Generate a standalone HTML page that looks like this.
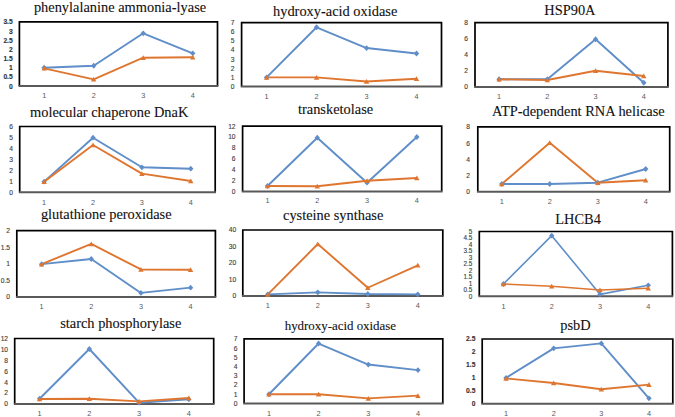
<!DOCTYPE html>
<html><head><meta charset="utf-8"><style>
html,body{margin:0;padding:0;background:#fff;}
svg{display:block;}
.t{font-family:"Liberation Serif",serif;}
.s{font-family:"Liberation Sans",sans-serif;}
</style></head><body>
<svg width="675" height="417" viewBox="0 0 675 417">
<rect width="675" height="417" fill="#fff"/>
<text x="33.90" y="11.60" class="t" font-size="14.4" fill="#111" stroke="#111" stroke-width="0.1">phenylalanine ammonia-lyase</text>
<text x="12.70" y="88.50" text-anchor="end" class="s" font-size="6.7" font-weight="bold" fill="#333" stroke="#333" stroke-width="0.12">0</text>
<text x="12.70" y="79.33" text-anchor="end" class="s" font-size="6.7" font-weight="bold" fill="#333" stroke="#333" stroke-width="0.12">0.5</text>
<text x="12.70" y="70.17" text-anchor="end" class="s" font-size="6.7" font-weight="bold" fill="#333" stroke="#333" stroke-width="0.12">1</text>
<text x="12.70" y="61.01" text-anchor="end" class="s" font-size="6.7" font-weight="bold" fill="#333" stroke="#333" stroke-width="0.12">1.5</text>
<text x="12.70" y="51.84" text-anchor="end" class="s" font-size="6.7" font-weight="bold" fill="#333" stroke="#333" stroke-width="0.12">2</text>
<text x="12.70" y="42.68" text-anchor="end" class="s" font-size="6.7" font-weight="bold" fill="#333" stroke="#333" stroke-width="0.12">2.5</text>
<text x="12.70" y="33.51" text-anchor="end" class="s" font-size="6.7" font-weight="bold" fill="#333" stroke="#333" stroke-width="0.12">3</text>
<text x="12.70" y="24.35" text-anchor="end" class="s" font-size="6.7" font-weight="bold" fill="#333" stroke="#333" stroke-width="0.12">3.5</text>
<text x="44.16" y="98.10" text-anchor="middle" class="s" font-size="7.3" fill="#595959">1</text>
<text x="93.69" y="98.10" text-anchor="middle" class="s" font-size="7.3" fill="#595959">2</text>
<text x="143.21" y="98.10" text-anchor="middle" class="s" font-size="7.3" fill="#595959">3</text>
<text x="192.74" y="98.10" text-anchor="middle" class="s" font-size="7.3" fill="#595959">4</text>
<path d="M19.40,86.10 L19.40,21.95 L217.50,21.95 L217.50,86.10" fill="none" stroke="#000" stroke-width="1.7"/>
<line x1="18.55" y1="86.10" x2="218.35" y2="86.10" stroke="#595959" stroke-width="2"/>
<polyline points="44.16,67.77 93.69,65.76 143.21,33.31 192.74,53.29" fill="none" stroke="#5F8EC8" stroke-width="1.9" stroke-linejoin="round"/>
<polyline points="44.16,68.32 93.69,79.32 143.21,57.69 192.74,57.32" fill="none" stroke="#DF7630" stroke-width="1.9" stroke-linejoin="round"/>
<path d="M44.16,64.87 L46.86,67.77 L44.16,70.67 L41.46,67.77Z" fill="#5F8EC8"/>
<path d="M93.69,62.86 L96.39,65.76 L93.69,68.66 L90.99,65.76Z" fill="#5F8EC8"/>
<path d="M143.21,30.41 L145.91,33.31 L143.21,36.21 L140.51,33.31Z" fill="#5F8EC8"/>
<path d="M192.74,50.39 L195.44,53.29 L192.74,56.19 L190.04,53.29Z" fill="#5F8EC8"/>
<path d="M44.16,65.82 L46.86,70.62 L41.46,70.62Z" fill="#DF7630"/>
<path d="M93.69,76.82 L96.39,81.62 L90.99,81.62Z" fill="#DF7630"/>
<path d="M143.21,55.19 L145.91,59.99 L140.51,59.99Z" fill="#DF7630"/>
<path d="M192.74,54.82 L195.44,59.62 L190.04,59.62Z" fill="#DF7630"/>
<text x="273.00" y="15.70" class="t" font-size="14.4" fill="#111" stroke="#111" stroke-width="0.1">hydroxy-acid oxidase</text>
<text x="234.60" y="88.90" text-anchor="end" class="s" font-size="6.7" font-weight="normal" fill="#3c3c3c" stroke="#3c3c3c" stroke-width="0.12">0</text>
<text x="234.60" y="79.78" text-anchor="end" class="s" font-size="6.7" font-weight="normal" fill="#3c3c3c" stroke="#3c3c3c" stroke-width="0.12">1</text>
<text x="234.60" y="70.67" text-anchor="end" class="s" font-size="6.7" font-weight="normal" fill="#3c3c3c" stroke="#3c3c3c" stroke-width="0.12">2</text>
<text x="234.60" y="61.56" text-anchor="end" class="s" font-size="6.7" font-weight="normal" fill="#3c3c3c" stroke="#3c3c3c" stroke-width="0.12">3</text>
<text x="234.60" y="52.44" text-anchor="end" class="s" font-size="6.7" font-weight="normal" fill="#3c3c3c" stroke="#3c3c3c" stroke-width="0.12">4</text>
<text x="234.60" y="43.33" text-anchor="end" class="s" font-size="6.7" font-weight="normal" fill="#3c3c3c" stroke="#3c3c3c" stroke-width="0.12">5</text>
<text x="234.60" y="34.21" text-anchor="end" class="s" font-size="6.7" font-weight="normal" fill="#3c3c3c" stroke="#3c3c3c" stroke-width="0.12">6</text>
<text x="234.60" y="25.10" text-anchor="end" class="s" font-size="6.7" font-weight="normal" fill="#3c3c3c" stroke="#3c3c3c" stroke-width="0.12">7</text>
<text x="266.59" y="98.50" text-anchor="middle" class="s" font-size="7.3" fill="#595959">1</text>
<text x="316.56" y="98.50" text-anchor="middle" class="s" font-size="7.3" fill="#595959">2</text>
<text x="366.54" y="98.50" text-anchor="middle" class="s" font-size="7.3" fill="#595959">3</text>
<text x="416.51" y="98.50" text-anchor="middle" class="s" font-size="7.3" fill="#595959">4</text>
<path d="M241.60,86.50 L241.60,22.70 L441.50,22.70 L441.50,86.50" fill="none" stroke="#000" stroke-width="1.7"/>
<line x1="240.75" y1="86.50" x2="442.35" y2="86.50" stroke="#595959" stroke-width="2"/>
<polyline points="266.59,77.39 316.56,27.26 366.54,48.04 416.51,53.51" fill="none" stroke="#5F8EC8" stroke-width="1.9" stroke-linejoin="round"/>
<polyline points="266.59,77.39 316.56,77.39 366.54,81.49 416.51,78.75" fill="none" stroke="#DF7630" stroke-width="1.9" stroke-linejoin="round"/>
<path d="M266.59,74.49 L269.29,77.39 L266.59,80.29 L263.89,77.39Z" fill="#5F8EC8"/>
<path d="M316.56,24.36 L319.26,27.26 L316.56,30.16 L313.86,27.26Z" fill="#5F8EC8"/>
<path d="M366.54,45.14 L369.24,48.04 L366.54,50.94 L363.84,48.04Z" fill="#5F8EC8"/>
<path d="M416.51,50.61 L419.21,53.51 L416.51,56.41 L413.81,53.51Z" fill="#5F8EC8"/>
<path d="M266.59,74.89 L269.29,79.69 L263.89,79.69Z" fill="#DF7630"/>
<path d="M316.56,74.89 L319.26,79.69 L313.86,79.69Z" fill="#DF7630"/>
<path d="M366.54,78.99 L369.24,83.79 L363.84,83.79Z" fill="#DF7630"/>
<path d="M416.51,76.25 L419.21,81.05 L413.81,81.05Z" fill="#DF7630"/>
<text x="544.30" y="14.50" class="t" font-size="14.4" fill="#111" stroke="#111" stroke-width="0.1">HSP90A</text>
<text x="468.00" y="89.40" text-anchor="end" class="s" font-size="6.7" font-weight="normal" fill="#3c3c3c" stroke="#3c3c3c" stroke-width="0.12">0</text>
<text x="468.00" y="73.30" text-anchor="end" class="s" font-size="6.7" font-weight="normal" fill="#3c3c3c" stroke="#3c3c3c" stroke-width="0.12">2</text>
<text x="468.00" y="57.20" text-anchor="end" class="s" font-size="6.7" font-weight="normal" fill="#3c3c3c" stroke="#3c3c3c" stroke-width="0.12">4</text>
<text x="468.00" y="41.10" text-anchor="end" class="s" font-size="6.7" font-weight="normal" fill="#3c3c3c" stroke="#3c3c3c" stroke-width="0.12">6</text>
<text x="468.00" y="25.00" text-anchor="end" class="s" font-size="6.7" font-weight="normal" fill="#3c3c3c" stroke="#3c3c3c" stroke-width="0.12">8</text>
<text x="499.11" y="99.00" text-anchor="middle" class="s" font-size="7.3" fill="#595959">1</text>
<text x="547.34" y="99.00" text-anchor="middle" class="s" font-size="7.3" fill="#595959">2</text>
<text x="595.56" y="99.00" text-anchor="middle" class="s" font-size="7.3" fill="#595959">3</text>
<text x="643.79" y="99.00" text-anchor="middle" class="s" font-size="7.3" fill="#595959">4</text>
<path d="M475.00,87.00 L475.00,22.60 L667.90,22.60 L667.90,87.00" fill="none" stroke="#000" stroke-width="1.7"/>
<line x1="474.15" y1="87.00" x2="668.75" y2="87.00" stroke="#595959" stroke-width="2"/>
<polyline points="499.11,79.27 547.34,79.27 595.56,39.26 643.79,82.73" fill="none" stroke="#5F8EC8" stroke-width="1.9" stroke-linejoin="round"/>
<polyline points="499.11,79.27 547.34,80.00 595.56,70.74 643.79,75.97" fill="none" stroke="#DF7630" stroke-width="1.9" stroke-linejoin="round"/>
<path d="M499.11,76.37 L501.81,79.27 L499.11,82.17 L496.41,79.27Z" fill="#5F8EC8"/>
<path d="M547.34,76.37 L550.04,79.27 L547.34,82.17 L544.64,79.27Z" fill="#5F8EC8"/>
<path d="M595.56,36.36 L598.26,39.26 L595.56,42.16 L592.86,39.26Z" fill="#5F8EC8"/>
<path d="M643.79,79.83 L646.49,82.73 L643.79,85.63 L641.09,82.73Z" fill="#5F8EC8"/>
<path d="M499.11,76.77 L501.81,81.57 L496.41,81.57Z" fill="#DF7630"/>
<path d="M547.34,77.50 L550.04,82.30 L544.64,82.30Z" fill="#DF7630"/>
<path d="M595.56,68.24 L598.26,73.04 L592.86,73.04Z" fill="#DF7630"/>
<path d="M643.79,73.47 L646.49,78.27 L641.09,78.27Z" fill="#DF7630"/>
<text x="30.10" y="117.00" class="t" font-size="14.4" fill="#111" stroke="#111" stroke-width="0.1">molecular chaperone DnaK</text>
<text x="13.10" y="194.70" text-anchor="end" class="s" font-size="6.7" font-weight="normal" fill="#3c3c3c" stroke="#3c3c3c" stroke-width="0.12">0</text>
<text x="13.10" y="183.73" text-anchor="end" class="s" font-size="6.7" font-weight="normal" fill="#3c3c3c" stroke="#3c3c3c" stroke-width="0.12">1</text>
<text x="13.10" y="172.77" text-anchor="end" class="s" font-size="6.7" font-weight="normal" fill="#3c3c3c" stroke="#3c3c3c" stroke-width="0.12">2</text>
<text x="13.10" y="161.80" text-anchor="end" class="s" font-size="6.7" font-weight="normal" fill="#3c3c3c" stroke="#3c3c3c" stroke-width="0.12">3</text>
<text x="13.10" y="150.83" text-anchor="end" class="s" font-size="6.7" font-weight="normal" fill="#3c3c3c" stroke="#3c3c3c" stroke-width="0.12">4</text>
<text x="13.10" y="139.87" text-anchor="end" class="s" font-size="6.7" font-weight="normal" fill="#3c3c3c" stroke="#3c3c3c" stroke-width="0.12">5</text>
<text x="13.10" y="128.90" text-anchor="end" class="s" font-size="6.7" font-weight="normal" fill="#3c3c3c" stroke="#3c3c3c" stroke-width="0.12">6</text>
<text x="44.14" y="205.00" text-anchor="middle" class="s" font-size="7.3" fill="#595959">1</text>
<text x="93.01" y="205.00" text-anchor="middle" class="s" font-size="7.3" fill="#595959">2</text>
<text x="141.89" y="205.00" text-anchor="middle" class="s" font-size="7.3" fill="#595959">3</text>
<text x="190.76" y="205.00" text-anchor="middle" class="s" font-size="7.3" fill="#595959">4</text>
<path d="M19.70,192.30 L19.70,126.50 L215.20,126.50 L215.20,192.30" fill="none" stroke="#000" stroke-width="1.7"/>
<line x1="18.85" y1="192.30" x2="216.05" y2="192.30" stroke="#595959" stroke-width="2"/>
<polyline points="44.14,181.66 93.01,137.69 141.89,167.30 190.76,168.72" fill="none" stroke="#5F8EC8" stroke-width="1.9" stroke-linejoin="round"/>
<polyline points="44.14,181.66 93.01,145.03 141.89,173.66 190.76,181.00" fill="none" stroke="#DF7630" stroke-width="1.9" stroke-linejoin="round"/>
<path d="M44.14,178.76 L46.84,181.66 L44.14,184.56 L41.44,181.66Z" fill="#5F8EC8"/>
<path d="M93.01,134.79 L95.71,137.69 L93.01,140.59 L90.31,137.69Z" fill="#5F8EC8"/>
<path d="M141.89,164.40 L144.59,167.30 L141.89,170.20 L139.19,167.30Z" fill="#5F8EC8"/>
<path d="M190.76,165.82 L193.46,168.72 L190.76,171.62 L188.06,168.72Z" fill="#5F8EC8"/>
<path d="M44.14,179.16 L46.84,183.96 L41.44,183.96Z" fill="#DF7630"/>
<path d="M93.01,142.53 L95.71,147.33 L90.31,147.33Z" fill="#DF7630"/>
<path d="M141.89,171.16 L144.59,175.96 L139.19,175.96Z" fill="#DF7630"/>
<path d="M190.76,178.50 L193.46,183.30 L188.06,183.30Z" fill="#DF7630"/>
<text x="298.00" y="113.60" class="t" font-size="14.4" fill="#111" stroke="#111" stroke-width="0.1">transketolase</text>
<text x="235.60" y="193.80" text-anchor="end" class="s" font-size="6.7" font-weight="normal" fill="#3c3c3c" stroke="#3c3c3c" stroke-width="0.12">0</text>
<text x="235.60" y="182.93" text-anchor="end" class="s" font-size="6.7" font-weight="normal" fill="#3c3c3c" stroke="#3c3c3c" stroke-width="0.12">2</text>
<text x="235.60" y="172.07" text-anchor="end" class="s" font-size="6.7" font-weight="normal" fill="#3c3c3c" stroke="#3c3c3c" stroke-width="0.12">4</text>
<text x="235.60" y="161.20" text-anchor="end" class="s" font-size="6.7" font-weight="normal" fill="#3c3c3c" stroke="#3c3c3c" stroke-width="0.12">6</text>
<text x="235.60" y="150.33" text-anchor="end" class="s" font-size="6.7" font-weight="normal" fill="#3c3c3c" stroke="#3c3c3c" stroke-width="0.12">8</text>
<text x="235.60" y="139.47" text-anchor="end" class="s" font-size="6.7" font-weight="normal" fill="#3c3c3c" stroke="#3c3c3c" stroke-width="0.12">10</text>
<text x="235.60" y="128.60" text-anchor="end" class="s" font-size="6.7" font-weight="normal" fill="#3c3c3c" stroke="#3c3c3c" stroke-width="0.12">12</text>
<text x="267.49" y="203.20" text-anchor="middle" class="s" font-size="7.3" fill="#595959">1</text>
<text x="317.26" y="203.20" text-anchor="middle" class="s" font-size="7.3" fill="#595959">2</text>
<text x="367.04" y="203.20" text-anchor="middle" class="s" font-size="7.3" fill="#595959">3</text>
<text x="416.81" y="203.20" text-anchor="middle" class="s" font-size="7.3" fill="#595959">4</text>
<path d="M242.60,191.40 L242.60,126.20 L441.70,126.20 L441.70,191.40" fill="none" stroke="#000" stroke-width="1.7"/>
<line x1="241.75" y1="191.40" x2="442.55" y2="191.40" stroke="#595959" stroke-width="2"/>
<polyline points="267.49,186.02 317.26,137.72 367.04,182.71 416.81,137.01" fill="none" stroke="#5F8EC8" stroke-width="1.9" stroke-linejoin="round"/>
<polyline points="267.49,186.02 317.26,186.29 367.04,180.70 416.81,177.98" fill="none" stroke="#DF7630" stroke-width="1.9" stroke-linejoin="round"/>
<path d="M267.49,183.12 L270.19,186.02 L267.49,188.92 L264.79,186.02Z" fill="#5F8EC8"/>
<path d="M317.26,134.82 L319.96,137.72 L317.26,140.62 L314.56,137.72Z" fill="#5F8EC8"/>
<path d="M367.04,179.81 L369.74,182.71 L367.04,185.61 L364.34,182.71Z" fill="#5F8EC8"/>
<path d="M416.81,134.11 L419.51,137.01 L416.81,139.91 L414.11,137.01Z" fill="#5F8EC8"/>
<path d="M267.49,183.52 L270.19,188.32 L264.79,188.32Z" fill="#DF7630"/>
<path d="M317.26,183.79 L319.96,188.59 L314.56,188.59Z" fill="#DF7630"/>
<path d="M367.04,178.20 L369.74,183.00 L364.34,183.00Z" fill="#DF7630"/>
<path d="M416.81,175.48 L419.51,180.28 L414.11,180.28Z" fill="#DF7630"/>
<text x="492.10" y="115.60" class="t" font-size="14.4" fill="#111" stroke="#111" stroke-width="0.1">ATP-dependent RNA helicase</text>
<text x="470.00" y="194.20" text-anchor="end" class="s" font-size="6.7" font-weight="normal" fill="#3c3c3c" stroke="#3c3c3c" stroke-width="0.12">0</text>
<text x="470.00" y="177.97" text-anchor="end" class="s" font-size="6.7" font-weight="normal" fill="#3c3c3c" stroke="#3c3c3c" stroke-width="0.12">2</text>
<text x="470.00" y="161.75" text-anchor="end" class="s" font-size="6.7" font-weight="normal" fill="#3c3c3c" stroke="#3c3c3c" stroke-width="0.12">4</text>
<text x="470.00" y="145.52" text-anchor="end" class="s" font-size="6.7" font-weight="normal" fill="#3c3c3c" stroke="#3c3c3c" stroke-width="0.12">6</text>
<text x="470.00" y="129.30" text-anchor="end" class="s" font-size="6.7" font-weight="normal" fill="#3c3c3c" stroke="#3c3c3c" stroke-width="0.12">8</text>
<text x="501.79" y="203.90" text-anchor="middle" class="s" font-size="7.3" fill="#595959">1</text>
<text x="549.76" y="203.90" text-anchor="middle" class="s" font-size="7.3" fill="#595959">2</text>
<text x="597.74" y="203.90" text-anchor="middle" class="s" font-size="7.3" fill="#595959">3</text>
<text x="645.71" y="203.90" text-anchor="middle" class="s" font-size="7.3" fill="#595959">4</text>
<path d="M477.80,191.80 L477.80,126.90 L669.70,126.90 L669.70,191.80" fill="none" stroke="#000" stroke-width="1.7"/>
<line x1="476.95" y1="191.80" x2="670.55" y2="191.80" stroke="#595959" stroke-width="2"/>
<polyline points="501.79,184.01 549.76,184.01 597.74,182.71 645.71,169.00" fill="none" stroke="#5F8EC8" stroke-width="1.9" stroke-linejoin="round"/>
<polyline points="501.79,184.01 549.76,142.72 597.74,182.71 645.71,180.28" fill="none" stroke="#DF7630" stroke-width="1.9" stroke-linejoin="round"/>
<path d="M501.79,181.11 L504.49,184.01 L501.79,186.91 L499.09,184.01Z" fill="#5F8EC8"/>
<path d="M549.76,181.11 L552.46,184.01 L549.76,186.91 L547.06,184.01Z" fill="#5F8EC8"/>
<path d="M597.74,179.81 L600.44,182.71 L597.74,185.61 L595.04,182.71Z" fill="#5F8EC8"/>
<path d="M645.71,166.10 L648.41,169.00 L645.71,171.90 L643.01,169.00Z" fill="#5F8EC8"/>
<path d="M501.79,181.51 L504.49,186.31 L499.09,186.31Z" fill="#DF7630"/>
<path d="M549.76,140.22 L552.46,145.02 L547.06,145.02Z" fill="#DF7630"/>
<path d="M597.74,180.21 L600.44,185.01 L595.04,185.01Z" fill="#DF7630"/>
<path d="M645.71,177.78 L648.41,182.58 L643.01,182.58Z" fill="#DF7630"/>
<text x="40.90" y="219.40" class="t" font-size="14.4" fill="#111" stroke="#111" stroke-width="0.1">glutathione peroxidase</text>
<text x="10.00" y="299.30" text-anchor="end" class="s" font-size="6.7" font-weight="normal" fill="#3c3c3c" stroke="#3c3c3c" stroke-width="0.12">0</text>
<text x="10.00" y="282.75" text-anchor="end" class="s" font-size="6.7" font-weight="normal" fill="#3c3c3c" stroke="#3c3c3c" stroke-width="0.12">0.5</text>
<text x="10.00" y="266.20" text-anchor="end" class="s" font-size="6.7" font-weight="normal" fill="#3c3c3c" stroke="#3c3c3c" stroke-width="0.12">1</text>
<text x="10.00" y="249.65" text-anchor="end" class="s" font-size="6.7" font-weight="normal" fill="#3c3c3c" stroke="#3c3c3c" stroke-width="0.12">1.5</text>
<text x="10.00" y="233.10" text-anchor="end" class="s" font-size="6.7" font-weight="normal" fill="#3c3c3c" stroke="#3c3c3c" stroke-width="0.12">2</text>
<text x="41.62" y="309.00" text-anchor="middle" class="s" font-size="7.3" fill="#595959">1</text>
<text x="91.27" y="309.00" text-anchor="middle" class="s" font-size="7.3" fill="#595959">2</text>
<text x="140.93" y="309.00" text-anchor="middle" class="s" font-size="7.3" fill="#595959">3</text>
<text x="190.58" y="309.00" text-anchor="middle" class="s" font-size="7.3" fill="#595959">4</text>
<path d="M16.80,296.90 L16.80,230.70 L215.40,230.70 L215.40,296.90" fill="none" stroke="#000" stroke-width="1.7"/>
<line x1="15.95" y1="296.90" x2="216.25" y2="296.90" stroke="#595959" stroke-width="2"/>
<polyline points="41.62,264.13 91.27,259.00 140.93,292.93 190.58,287.63" fill="none" stroke="#5F8EC8" stroke-width="1.9" stroke-linejoin="round"/>
<polyline points="41.62,264.13 91.27,243.94 140.93,269.43 190.58,269.76" fill="none" stroke="#DF7630" stroke-width="1.9" stroke-linejoin="round"/>
<path d="M41.62,261.23 L44.33,264.13 L41.62,267.03 L38.92,264.13Z" fill="#5F8EC8"/>
<path d="M91.27,256.10 L93.97,259.00 L91.27,261.90 L88.57,259.00Z" fill="#5F8EC8"/>
<path d="M140.93,290.03 L143.62,292.93 L140.93,295.83 L138.23,292.93Z" fill="#5F8EC8"/>
<path d="M190.58,284.73 L193.28,287.63 L190.58,290.53 L187.88,287.63Z" fill="#5F8EC8"/>
<path d="M41.62,261.63 L44.33,266.43 L38.92,266.43Z" fill="#DF7630"/>
<path d="M91.27,241.44 L93.97,246.24 L88.57,246.24Z" fill="#DF7630"/>
<path d="M140.93,266.93 L143.62,271.73 L138.23,271.73Z" fill="#DF7630"/>
<path d="M190.58,267.26 L193.28,272.06 L187.88,272.06Z" fill="#DF7630"/>
<text x="283.00" y="219.60" class="t" font-size="14.4" fill="#111" stroke="#111" stroke-width="0.1">cysteine synthase</text>
<text x="236.20" y="298.40" text-anchor="end" class="s" font-size="6.7" font-weight="normal" fill="#3c3c3c" stroke="#3c3c3c" stroke-width="0.12">0</text>
<text x="236.20" y="281.90" text-anchor="end" class="s" font-size="6.7" font-weight="normal" fill="#3c3c3c" stroke="#3c3c3c" stroke-width="0.12">10</text>
<text x="236.20" y="265.40" text-anchor="end" class="s" font-size="6.7" font-weight="normal" fill="#3c3c3c" stroke="#3c3c3c" stroke-width="0.12">20</text>
<text x="236.20" y="248.90" text-anchor="end" class="s" font-size="6.7" font-weight="normal" fill="#3c3c3c" stroke="#3c3c3c" stroke-width="0.12">30</text>
<text x="236.20" y="232.40" text-anchor="end" class="s" font-size="6.7" font-weight="normal" fill="#3c3c3c" stroke="#3c3c3c" stroke-width="0.12">40</text>
<text x="267.80" y="308.00" text-anchor="middle" class="s" font-size="7.3" fill="#595959">1</text>
<text x="317.80" y="308.00" text-anchor="middle" class="s" font-size="7.3" fill="#595959">2</text>
<text x="367.80" y="308.00" text-anchor="middle" class="s" font-size="7.3" fill="#595959">3</text>
<text x="417.80" y="308.00" text-anchor="middle" class="s" font-size="7.3" fill="#595959">4</text>
<path d="M242.80,296.00 L242.80,230.00 L442.80,230.00 L442.80,296.00" fill="none" stroke="#000" stroke-width="1.7"/>
<line x1="241.95" y1="296.00" x2="443.65" y2="296.00" stroke="#595959" stroke-width="2"/>
<polyline points="267.80,294.35 317.80,292.37 367.80,294.02 417.80,294.35" fill="none" stroke="#5F8EC8" stroke-width="1.9" stroke-linejoin="round"/>
<polyline points="267.80,294.35 317.80,244.03 367.80,287.75 417.80,265.31" fill="none" stroke="#DF7630" stroke-width="1.9" stroke-linejoin="round"/>
<path d="M267.80,291.45 L270.50,294.35 L267.80,297.25 L265.10,294.35Z" fill="#5F8EC8"/>
<path d="M317.80,289.47 L320.50,292.37 L317.80,295.27 L315.10,292.37Z" fill="#5F8EC8"/>
<path d="M367.80,291.12 L370.50,294.02 L367.80,296.92 L365.10,294.02Z" fill="#5F8EC8"/>
<path d="M417.80,291.45 L420.50,294.35 L417.80,297.25 L415.10,294.35Z" fill="#5F8EC8"/>
<path d="M267.80,291.85 L270.50,296.65 L265.10,296.65Z" fill="#DF7630"/>
<path d="M317.80,241.53 L320.50,246.33 L315.10,246.33Z" fill="#DF7630"/>
<path d="M367.80,285.25 L370.50,290.05 L365.10,290.05Z" fill="#DF7630"/>
<path d="M417.80,262.81 L420.50,267.61 L415.10,267.61Z" fill="#DF7630"/>
<text x="555.30" y="223.80" class="t" font-size="14.4" fill="#111" stroke="#111" stroke-width="0.1">LHCB4</text>
<text x="472.30" y="298.59" text-anchor="end" class="s" font-size="6.4" font-weight="normal" fill="#3c3c3c" stroke="#3c3c3c" stroke-width="0.12">0</text>
<text x="472.30" y="292.11" text-anchor="end" class="s" font-size="6.4" font-weight="normal" fill="#3c3c3c" stroke="#3c3c3c" stroke-width="0.12">0.5</text>
<text x="472.30" y="285.63" text-anchor="end" class="s" font-size="6.4" font-weight="normal" fill="#3c3c3c" stroke="#3c3c3c" stroke-width="0.12">1</text>
<text x="472.30" y="279.15" text-anchor="end" class="s" font-size="6.4" font-weight="normal" fill="#3c3c3c" stroke="#3c3c3c" stroke-width="0.12">1.5</text>
<text x="472.30" y="272.67" text-anchor="end" class="s" font-size="6.4" font-weight="normal" fill="#3c3c3c" stroke="#3c3c3c" stroke-width="0.12">2</text>
<text x="472.30" y="266.19" text-anchor="end" class="s" font-size="6.4" font-weight="normal" fill="#3c3c3c" stroke="#3c3c3c" stroke-width="0.12">2.5</text>
<text x="472.30" y="259.71" text-anchor="end" class="s" font-size="6.4" font-weight="normal" fill="#3c3c3c" stroke="#3c3c3c" stroke-width="0.12">3</text>
<text x="472.30" y="253.23" text-anchor="end" class="s" font-size="6.4" font-weight="normal" fill="#3c3c3c" stroke="#3c3c3c" stroke-width="0.12">3.5</text>
<text x="472.30" y="246.75" text-anchor="end" class="s" font-size="6.4" font-weight="normal" fill="#3c3c3c" stroke="#3c3c3c" stroke-width="0.12">4</text>
<text x="472.30" y="240.27" text-anchor="end" class="s" font-size="6.4" font-weight="normal" fill="#3c3c3c" stroke="#3c3c3c" stroke-width="0.12">4.5</text>
<text x="472.30" y="233.79" text-anchor="end" class="s" font-size="6.4" font-weight="normal" fill="#3c3c3c" stroke="#3c3c3c" stroke-width="0.12">5</text>
<text x="503.44" y="309.00" text-anchor="middle" class="s" font-size="7.3" fill="#595959">1</text>
<text x="551.71" y="309.00" text-anchor="middle" class="s" font-size="7.3" fill="#595959">2</text>
<text x="599.99" y="309.00" text-anchor="middle" class="s" font-size="7.3" fill="#595959">3</text>
<text x="648.26" y="309.00" text-anchor="middle" class="s" font-size="7.3" fill="#595959">4</text>
<path d="M479.30,296.30 L479.30,231.50 L672.40,231.50 L672.40,296.30" fill="none" stroke="#000" stroke-width="1.7"/>
<line x1="478.45" y1="296.30" x2="673.25" y2="296.30" stroke="#595959" stroke-width="2"/>
<polyline points="503.44,283.99 551.71,235.65 599.99,294.36 648.26,285.28" fill="none" stroke="#5F8EC8" stroke-width="1.6" stroke-linejoin="round"/>
<polyline points="503.44,283.99 551.71,286.32 599.99,289.95 648.26,288.26" fill="none" stroke="#DF7630" stroke-width="1.6" stroke-linejoin="round"/>
<path d="M503.44,281.09 L506.14,283.99 L503.44,286.89 L500.74,283.99Z" fill="#5F8EC8"/>
<path d="M551.71,232.75 L554.41,235.65 L551.71,238.55 L549.01,235.65Z" fill="#5F8EC8"/>
<path d="M599.99,291.46 L602.69,294.36 L599.99,297.26 L597.29,294.36Z" fill="#5F8EC8"/>
<path d="M648.26,282.38 L650.96,285.28 L648.26,288.18 L645.56,285.28Z" fill="#5F8EC8"/>
<path d="M503.44,281.49 L506.14,286.29 L500.74,286.29Z" fill="#DF7630"/>
<path d="M551.71,283.82 L554.41,288.62 L549.01,288.62Z" fill="#DF7630"/>
<path d="M599.99,287.45 L602.69,292.25 L597.29,292.25Z" fill="#DF7630"/>
<path d="M648.26,285.76 L650.96,290.56 L645.56,290.56Z" fill="#DF7630"/>
<text x="60.20" y="327.60" class="t" font-size="14.4" fill="#111" stroke="#111" stroke-width="0.1">starch phosphorylase</text>
<text x="8.10" y="406.40" text-anchor="end" class="s" font-size="6.7" font-weight="normal" fill="#3c3c3c" stroke="#3c3c3c" stroke-width="0.12">0</text>
<text x="8.10" y="395.48" text-anchor="end" class="s" font-size="6.7" font-weight="normal" fill="#3c3c3c" stroke="#3c3c3c" stroke-width="0.12">2</text>
<text x="8.10" y="384.57" text-anchor="end" class="s" font-size="6.7" font-weight="normal" fill="#3c3c3c" stroke="#3c3c3c" stroke-width="0.12">4</text>
<text x="8.10" y="373.65" text-anchor="end" class="s" font-size="6.7" font-weight="normal" fill="#3c3c3c" stroke="#3c3c3c" stroke-width="0.12">6</text>
<text x="8.10" y="362.73" text-anchor="end" class="s" font-size="6.7" font-weight="normal" fill="#3c3c3c" stroke="#3c3c3c" stroke-width="0.12">8</text>
<text x="8.10" y="351.82" text-anchor="end" class="s" font-size="6.7" font-weight="normal" fill="#3c3c3c" stroke="#3c3c3c" stroke-width="0.12">10</text>
<text x="8.10" y="340.90" text-anchor="end" class="s" font-size="6.7" font-weight="normal" fill="#3c3c3c" stroke="#3c3c3c" stroke-width="0.12">12</text>
<text x="39.58" y="415.70" text-anchor="middle" class="s" font-size="7.3" fill="#595959">1</text>
<text x="89.33" y="415.70" text-anchor="middle" class="s" font-size="7.3" fill="#595959">2</text>
<text x="139.07" y="415.70" text-anchor="middle" class="s" font-size="7.3" fill="#595959">3</text>
<text x="188.82" y="415.70" text-anchor="middle" class="s" font-size="7.3" fill="#595959">4</text>
<path d="M14.70,404.00 L14.70,338.50 L213.70,338.50 L213.70,404.00" fill="none" stroke="#000" stroke-width="1.7"/>
<line x1="13.85" y1="404.00" x2="214.55" y2="404.00" stroke="#595959" stroke-width="2"/>
<polyline points="39.58,398.71 89.33,348.98 139.07,402.69 188.82,399.31" fill="none" stroke="#5F8EC8" stroke-width="1.9" stroke-linejoin="round"/>
<polyline points="39.58,398.98 89.33,398.71 139.07,401.33 188.82,398.00" fill="none" stroke="#DF7630" stroke-width="1.9" stroke-linejoin="round"/>
<path d="M39.58,395.81 L42.28,398.71 L39.58,401.61 L36.88,398.71Z" fill="#5F8EC8"/>
<path d="M89.33,346.08 L92.03,348.98 L89.33,351.88 L86.62,348.98Z" fill="#5F8EC8"/>
<path d="M139.07,399.79 L141.77,402.69 L139.07,405.59 L136.38,402.69Z" fill="#5F8EC8"/>
<path d="M188.82,396.41 L191.52,399.31 L188.82,402.21 L186.12,399.31Z" fill="#5F8EC8"/>
<path d="M39.58,396.48 L42.28,401.28 L36.88,401.28Z" fill="#DF7630"/>
<path d="M89.33,396.21 L92.03,401.01 L86.62,401.01Z" fill="#DF7630"/>
<path d="M139.07,398.83 L141.77,403.63 L136.38,403.63Z" fill="#DF7630"/>
<path d="M188.82,395.50 L191.52,400.30 L186.12,400.30Z" fill="#DF7630"/>
<text x="284.70" y="329.60" class="t" font-size="12.9" fill="#111" stroke="#111" stroke-width="0.1">hydroxy-acid oxidase</text>
<text x="237.50" y="405.90" text-anchor="end" class="s" font-size="6.7" font-weight="normal" fill="#3c3c3c" stroke="#3c3c3c" stroke-width="0.12">0</text>
<text x="237.50" y="396.67" text-anchor="end" class="s" font-size="6.7" font-weight="normal" fill="#3c3c3c" stroke="#3c3c3c" stroke-width="0.12">1</text>
<text x="237.50" y="387.44" text-anchor="end" class="s" font-size="6.7" font-weight="normal" fill="#3c3c3c" stroke="#3c3c3c" stroke-width="0.12">2</text>
<text x="237.50" y="378.21" text-anchor="end" class="s" font-size="6.7" font-weight="normal" fill="#3c3c3c" stroke="#3c3c3c" stroke-width="0.12">3</text>
<text x="237.50" y="368.98" text-anchor="end" class="s" font-size="6.7" font-weight="normal" fill="#3c3c3c" stroke="#3c3c3c" stroke-width="0.12">4</text>
<text x="237.50" y="359.76" text-anchor="end" class="s" font-size="6.7" font-weight="normal" fill="#3c3c3c" stroke="#3c3c3c" stroke-width="0.12">5</text>
<text x="237.50" y="350.53" text-anchor="end" class="s" font-size="6.7" font-weight="normal" fill="#3c3c3c" stroke="#3c3c3c" stroke-width="0.12">6</text>
<text x="237.50" y="341.30" text-anchor="end" class="s" font-size="6.7" font-weight="normal" fill="#3c3c3c" stroke="#3c3c3c" stroke-width="0.12">7</text>
<text x="268.94" y="415.70" text-anchor="middle" class="s" font-size="7.3" fill="#595959">1</text>
<text x="318.61" y="415.70" text-anchor="middle" class="s" font-size="7.3" fill="#595959">2</text>
<text x="368.29" y="415.70" text-anchor="middle" class="s" font-size="7.3" fill="#595959">3</text>
<text x="417.96" y="415.70" text-anchor="middle" class="s" font-size="7.3" fill="#595959">4</text>
<path d="M244.10,403.50 L244.10,338.90 L442.80,338.90 L442.80,403.50" fill="none" stroke="#000" stroke-width="1.7"/>
<line x1="243.25" y1="403.50" x2="443.65" y2="403.50" stroke="#595959" stroke-width="2"/>
<polyline points="268.94,394.27 318.61,343.51 368.29,364.56 417.96,370.09" fill="none" stroke="#5F8EC8" stroke-width="1.9" stroke-linejoin="round"/>
<polyline points="268.94,394.27 318.61,394.27 368.29,398.42 417.96,395.66" fill="none" stroke="#DF7630" stroke-width="1.9" stroke-linejoin="round"/>
<path d="M268.94,391.37 L271.64,394.27 L268.94,397.17 L266.24,394.27Z" fill="#5F8EC8"/>
<path d="M318.61,340.61 L321.31,343.51 L318.61,346.41 L315.91,343.51Z" fill="#5F8EC8"/>
<path d="M368.29,361.66 L370.99,364.56 L368.29,367.46 L365.59,364.56Z" fill="#5F8EC8"/>
<path d="M417.96,367.19 L420.66,370.09 L417.96,372.99 L415.26,370.09Z" fill="#5F8EC8"/>
<path d="M268.94,391.77 L271.64,396.57 L266.24,396.57Z" fill="#DF7630"/>
<path d="M318.61,391.77 L321.31,396.57 L315.91,396.57Z" fill="#DF7630"/>
<path d="M368.29,395.92 L370.99,400.72 L365.59,400.72Z" fill="#DF7630"/>
<path d="M417.96,393.16 L420.66,397.96 L415.26,397.96Z" fill="#DF7630"/>
<text x="560.20" y="330.00" class="t" font-size="14.4" fill="#111" stroke="#111" stroke-width="0.1">psbD</text>
<text x="475.40" y="406.20" text-anchor="end" class="s" font-size="6.7" font-weight="bold" fill="#333" stroke="#333" stroke-width="0.12">0</text>
<text x="475.40" y="393.24" text-anchor="end" class="s" font-size="6.7" font-weight="bold" fill="#333" stroke="#333" stroke-width="0.12">0.5</text>
<text x="475.40" y="380.28" text-anchor="end" class="s" font-size="6.7" font-weight="bold" fill="#333" stroke="#333" stroke-width="0.12">1</text>
<text x="475.40" y="367.32" text-anchor="end" class="s" font-size="6.7" font-weight="bold" fill="#333" stroke="#333" stroke-width="0.12">1.5</text>
<text x="475.40" y="354.36" text-anchor="end" class="s" font-size="6.7" font-weight="bold" fill="#333" stroke="#333" stroke-width="0.12">2</text>
<text x="475.40" y="341.40" text-anchor="end" class="s" font-size="6.7" font-weight="bold" fill="#333" stroke="#333" stroke-width="0.12">2.5</text>
<text x="506.02" y="415.70" text-anchor="middle" class="s" font-size="7.3" fill="#595959">1</text>
<text x="553.67" y="415.70" text-anchor="middle" class="s" font-size="7.3" fill="#595959">2</text>
<text x="601.32" y="415.70" text-anchor="middle" class="s" font-size="7.3" fill="#595959">3</text>
<text x="648.97" y="415.70" text-anchor="middle" class="s" font-size="7.3" fill="#595959">4</text>
<path d="M482.20,403.80 L482.20,339.00 L672.80,339.00 L672.80,403.80" fill="none" stroke="#000" stroke-width="1.7"/>
<line x1="481.35" y1="403.80" x2="673.65" y2="403.80" stroke="#595959" stroke-width="2"/>
<polyline points="506.02,377.88 553.67,348.33 601.32,343.41 648.97,398.36" fill="none" stroke="#5F8EC8" stroke-width="1.9" stroke-linejoin="round"/>
<polyline points="506.02,378.40 553.67,383.06 601.32,389.28 648.97,384.62" fill="none" stroke="#DF7630" stroke-width="1.9" stroke-linejoin="round"/>
<path d="M506.02,374.98 L508.72,377.88 L506.02,380.78 L503.32,377.88Z" fill="#5F8EC8"/>
<path d="M553.67,345.43 L556.38,348.33 L553.67,351.23 L550.97,348.33Z" fill="#5F8EC8"/>
<path d="M601.32,340.51 L604.02,343.41 L601.32,346.31 L598.62,343.41Z" fill="#5F8EC8"/>
<path d="M648.97,395.46 L651.67,398.36 L648.97,401.26 L646.27,398.36Z" fill="#5F8EC8"/>
<path d="M506.02,375.90 L508.72,380.70 L503.32,380.70Z" fill="#DF7630"/>
<path d="M553.67,380.56 L556.38,385.36 L550.97,385.36Z" fill="#DF7630"/>
<path d="M601.32,386.78 L604.02,391.58 L598.62,391.58Z" fill="#DF7630"/>
<path d="M648.97,382.12 L651.67,386.92 L646.27,386.92Z" fill="#DF7630"/>
</svg>
</body></html>
